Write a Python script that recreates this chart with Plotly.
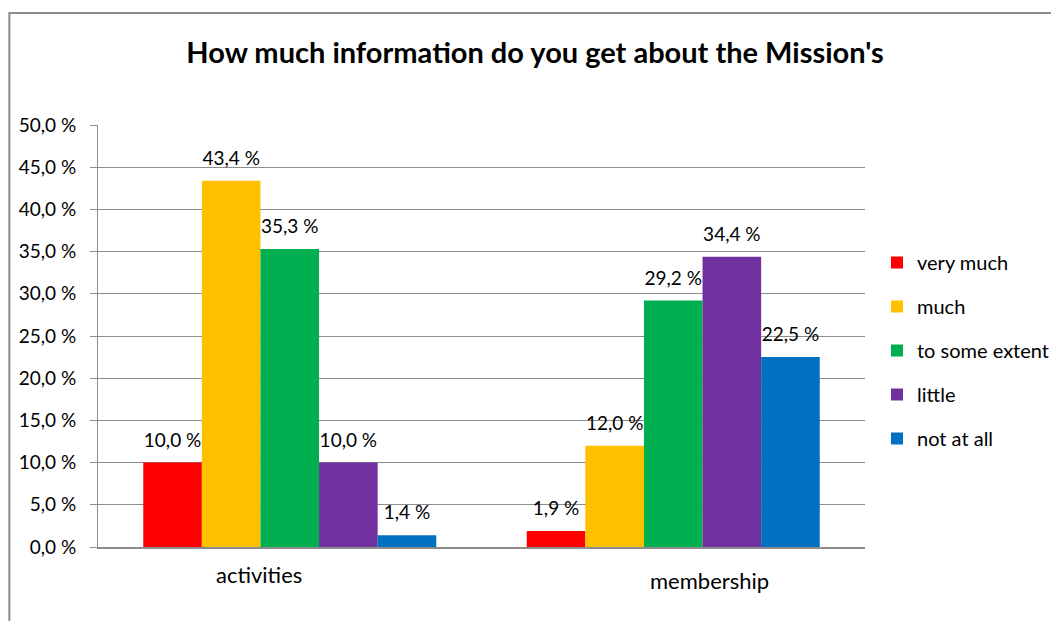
import plotly.graph_objects as go

categories = ["activities", "membership"]
series_names = ["very much", "much", "to some extent", "little", "not at all"]
very_much = [10.0, 1.9]
much = [43.4, 12.0]
some_extent = [35.3, 29.2]
little = [10.0, 34.4]
not_at_all = [1.4, 22.5]
series_values = [very_much, much, some_extent, little, not_at_all]
colors = ["#FF0000", "#FFC000", "#00B050", "#7030A0", "#0070C0"]
y_ticks = [0, 5, 10, 15, 20, 25, 30, 35, 40, 45, 50]
y_tick_text = [f"{v:.1f}".replace(".", ",") + " %" for v in y_ticks]

FONT = "Lato, 'Open Sans', sans-serif"

# a wide, empty spacer on each side of the value lifts the label off the bar top
SPACER = "<span style='font-size:60px'>\u00a0</span>"

fig = go.Figure()
for name, vals, col in zip(series_names, series_values, colors):
    fig.add_trace(go.Bar(
        x=categories, y=vals, name=name, legendgroup=name,
        marker=dict(color=col, line=dict(width=0)),
        texttemplate=SPACER + "%{y:.1f} %" + SPACER, textposition="outside",
        constraintext="none",
        textfont=dict(family=FONT, size=19, color="#000000"),
        cliponaxis=False,
    ))

# category labels sit slightly off-centre under each group
label_offsets = [(-31, -27), (36, -33)]
for cat, (dx, dy) in zip(categories, label_offsets):
    fig.add_annotation(x=cat, xref="x", y=0, yref="y", text=cat, showarrow=False,
                       xshift=dx, yshift=dy, font=dict(family=FONT, size=22, color="#000000"))

# outer chart frame
fig.add_shape(type="rect", xref="paper", yref="paper", x0=-0.1156, x1=1.4, y0=-0.6, y1=1.2654,
              line=dict(color="#8C8C8C", width=2), fillcolor="rgba(0,0,0,0)", layer="below")

fig.update_layout(
    width=1051, height=621,
    margin=dict(l=98, r=183, t=125, b=74),
    paper_bgcolor="white", plot_bgcolor="white",
    separators=", ",
    barmode="group", bargap=0.236, bargroupgap=0,
    title=dict(text="<b>How much information do you get about the Mission's</b>",
               x=535 / 1051, xanchor="center", xref="container",
               y=1 - 53 / 621, yanchor="middle", yref="container",
               font=dict(family=FONT, size=29, color="#000000")),
    font=dict(family=FONT, color="#000000"),
    showlegend=True,
    legend=dict(xref="container", yref="container", x=877 / 1051, xanchor="left",
                y=1 - 243 / 621, yanchor="top", tracegroupgap=15,
                font=dict(family=FONT, size=20, color="#000000"),
                bgcolor="rgba(0,0,0,0)"),
    xaxis=dict(showticklabels=False, showline=True, linecolor="#8C8C8C", linewidth=2,
               ticks="", showgrid=False, zeroline=False),
    yaxis=dict(range=[0, 50], tickmode="array", tickvals=y_ticks, ticktext=y_tick_text,
               showgrid=True, gridcolor="#8C8C8C", gridwidth=1,
               showline=True, linecolor="#8C8C8C", linewidth=1,
               ticks="outside", ticklen=7, tickcolor="#8C8C8C", ticklabelstandoff=10,
               zeroline=False, tickfont=dict(family=FONT, size=19, color="#000000")),
)

fig.write_html("out.html")
